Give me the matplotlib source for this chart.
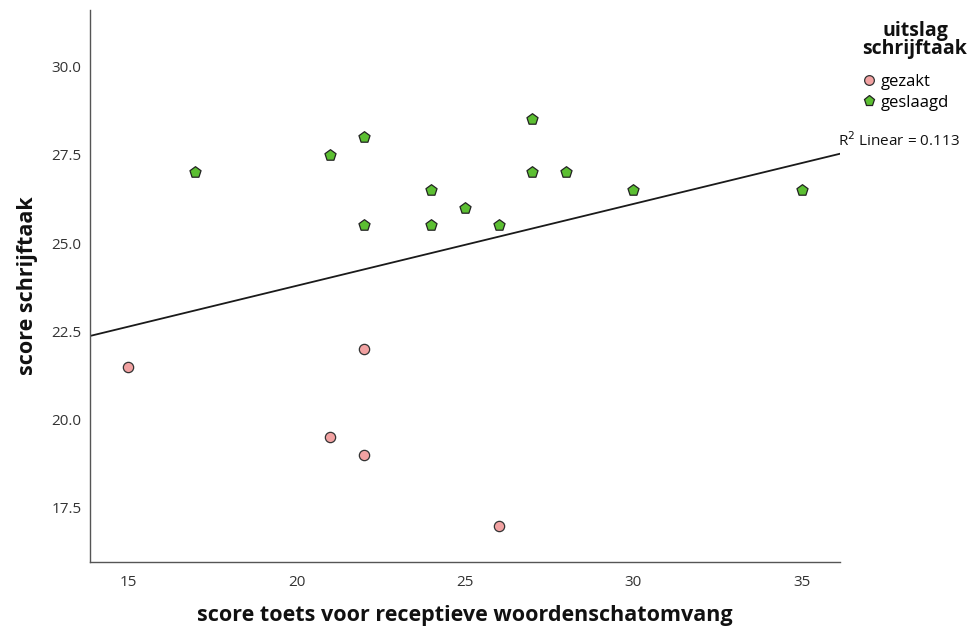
import numpy as np
import matplotlib
matplotlib.use("Agg")
import matplotlib.pyplot as plt
from matplotlib.lines import Line2D

plt.rcParams['font.family'] = ['Open Sans', 'DejaVu Sans']

# Data
gezakt_x = [15, 22, 21, 22, 26]
gezakt_y = [21.5, 22.0, 19.5, 19.0, 17.0]
geslaagd_x = [17, 21, 22, 22, 24, 24, 25, 26, 27, 27, 28, 30, 35]
geslaagd_y = [27.0, 27.5, 28.0, 25.5, 26.5, 25.5, 26.0, 25.5, 28.5, 27.0, 27.0, 26.5, 26.5]
# Fit line as shown in the chart
fit_intercept = 19.155
fit_slope = 0.2318
x_ticks = [15, 20, 25, 30, 35]
y_ticks = [17.5, 20.0, 22.5, 25.0, 27.5, 30.0]
r2_label = "R$^2$ Linear = 0.113"

fig = plt.figure(figsize=(9.72, 6.28), dpi=100)
ax = fig.add_axes([90/972, 66/628, 750/972, 552/628])

xmin, xmax = 13.87, 36.13
ax.set_xlim(xmin, xmax)
ax.set_ylim(15.97, 31.6)

ax.scatter(gezakt_x, gezakt_y, s=55, marker='o', facecolor='#f2a2a2',
           edgecolor='#333333', linewidth=0.9, zorder=3)
ax.scatter(geslaagd_x, geslaagd_y, s=70, marker='p', facecolor='#5cbf32',
           edgecolor='#222222', linewidth=0.9, zorder=3)

xs = np.array([xmin, xmax])
ax.plot(xs, fit_intercept + fit_slope * xs, color='#1a1a1a', lw=1.3, zorder=2)

ax.set_xticks(x_ticks)
ax.set_xticklabels([str(t) for t in x_ticks])
ax.set_yticks(y_ticks)
ax.set_yticklabels([f"{t:.1f}" for t in y_ticks])
ax.tick_params(length=0, labelsize=11, colors='#333333')
ax.tick_params(axis='x', pad=9)
ax.tick_params(axis='y', pad=6)

for s in ['top', 'right']:
    ax.spines[s].set_visible(False)
for s in ['left', 'bottom']:
    ax.spines[s].set_color('#555555')
    ax.spines[s].set_linewidth(1.0)

ax.set_xlabel("score toets voor receptieve woordenschatomvang", fontsize=15.5,
              fontweight='bold', labelpad=11, color='#111111')
ax.set_ylabel("score schrijftaak", fontsize=15.5, fontweight='bold',
              labelpad=10, color='#111111')

fig.text(915/972, 1 - 40/628, "uitslag\nschrijftaak", ha='center', va='center',
         fontsize=14, fontweight='bold', linespacing=0.92, color='#111111')

handles = [Line2D([], [], marker='o', ls='', markersize=7, markerfacecolor='#f2a2a2',
                  markeredgecolor='#333333', markeredgewidth=0.9),
           Line2D([], [], marker='p', ls='', markersize=8, markerfacecolor='#5cbf32',
                  markeredgecolor='#222222', markeredgewidth=0.9)]
fig.legend(handles, ['gezakt', 'geslaagd'], loc='upper left',
           bbox_to_anchor=(859/972, 1 - 74/628), frameon=False, fontsize=12,
           handletextpad=0.1, labelspacing=0.3, borderaxespad=0, borderpad=0,
           handlelength=1.2)

fig.text(838/972, 1 - 141/628, r2_label, ha='left', va='center', fontsize=11,
         color='#111111')

fig.savefig("out.png", dpi=100)
